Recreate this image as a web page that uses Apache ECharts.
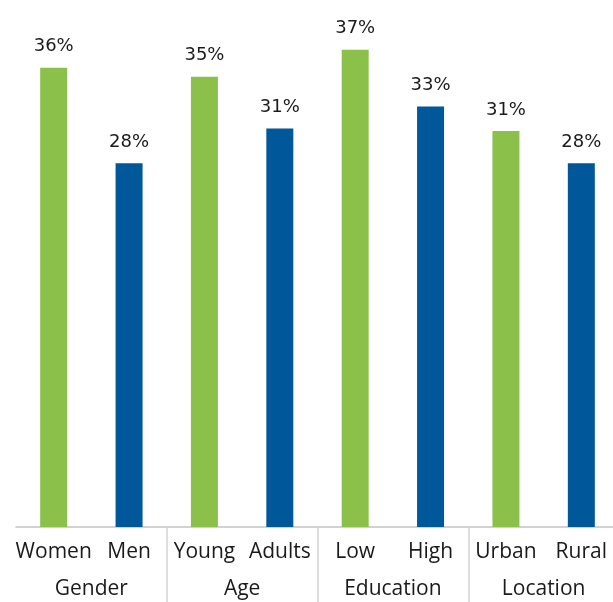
<!DOCTYPE html>
<html>
<head>
<meta charset="utf-8">
<script src="https://cdn.jsdelivr.net/npm/echarts@6/dist/echarts.min.js"></script>
<style>
  html, body { margin: 0; padding: 0; background: #fff; }
  #chart { width: 613px; height: 602px; }
</style>
</head>
<body>
<div id="chart"></div>
<script>
// categories and groups
const categories = ['Women', 'Men', 'Young', 'Adults', 'Low', 'High', 'Urban', 'Rural'];
const groups = ['Gender', 'Age', 'Education', 'Location'];
// share in percent
const values = [35.6, 28.2, 34.9, 30.9, 37.0, 32.6, 30.7, 28.2];
const colors = ['#8bc14a', '#00579a'];

const chart = echarts.init(document.getElementById('chart'));
const font = '"Open Sans", "Noto Sans", sans-serif';

let option = {
  animation: false,
  grid: { left: 16, width: 603, top: 11, bottom: 75, outerBoundsMode: 'none', containLabel: false },
  xAxis: [
    {
      type: 'category',
      data: categories,
      axisLine: { lineStyle: { color: '#c4c4c4', width: 1.5 } },
      axisTick: {
        show: true,
        length: 76,
        interval: (i) => i === 2 || i === 4 || i === 6,
        lineStyle: { color: '#d4d4d4', width: 1.5 }
      },
      axisLabel: { color: '#1a1a1a', fontSize: 21, fontFamily: font, margin: 15, interval: 0 }
    },
    {
      type: 'category',
      data: groups,
      position: 'bottom',
      axisLine: { show: false },
      axisTick: { show: false },
      axisLabel: { color: '#1a1a1a', fontSize: 21, fontFamily: font, margin: 52, interval: 0 }
    }
  ],
  yAxis: {
    type: 'value',
    min: 0,
    max: 40,
    show: false
  },
  series: [
    {
      type: 'bar',
      barWidth: 27,
      data: values.map((v, i) => ({ value: v, itemStyle: { color: colors[i % 2] } })),
      label: {
        show: true,
        position: 'top',
        distance: 12,
        color: '#1a1a1a',
        fontSize: 18,
        fontFamily: '"DejaVu Sans", sans-serif',
        formatter: (p) => Math.round(p.value) + '%'
      }
    }
  ]
};

chart.setOption(option);
</script>
</body>
</html>
